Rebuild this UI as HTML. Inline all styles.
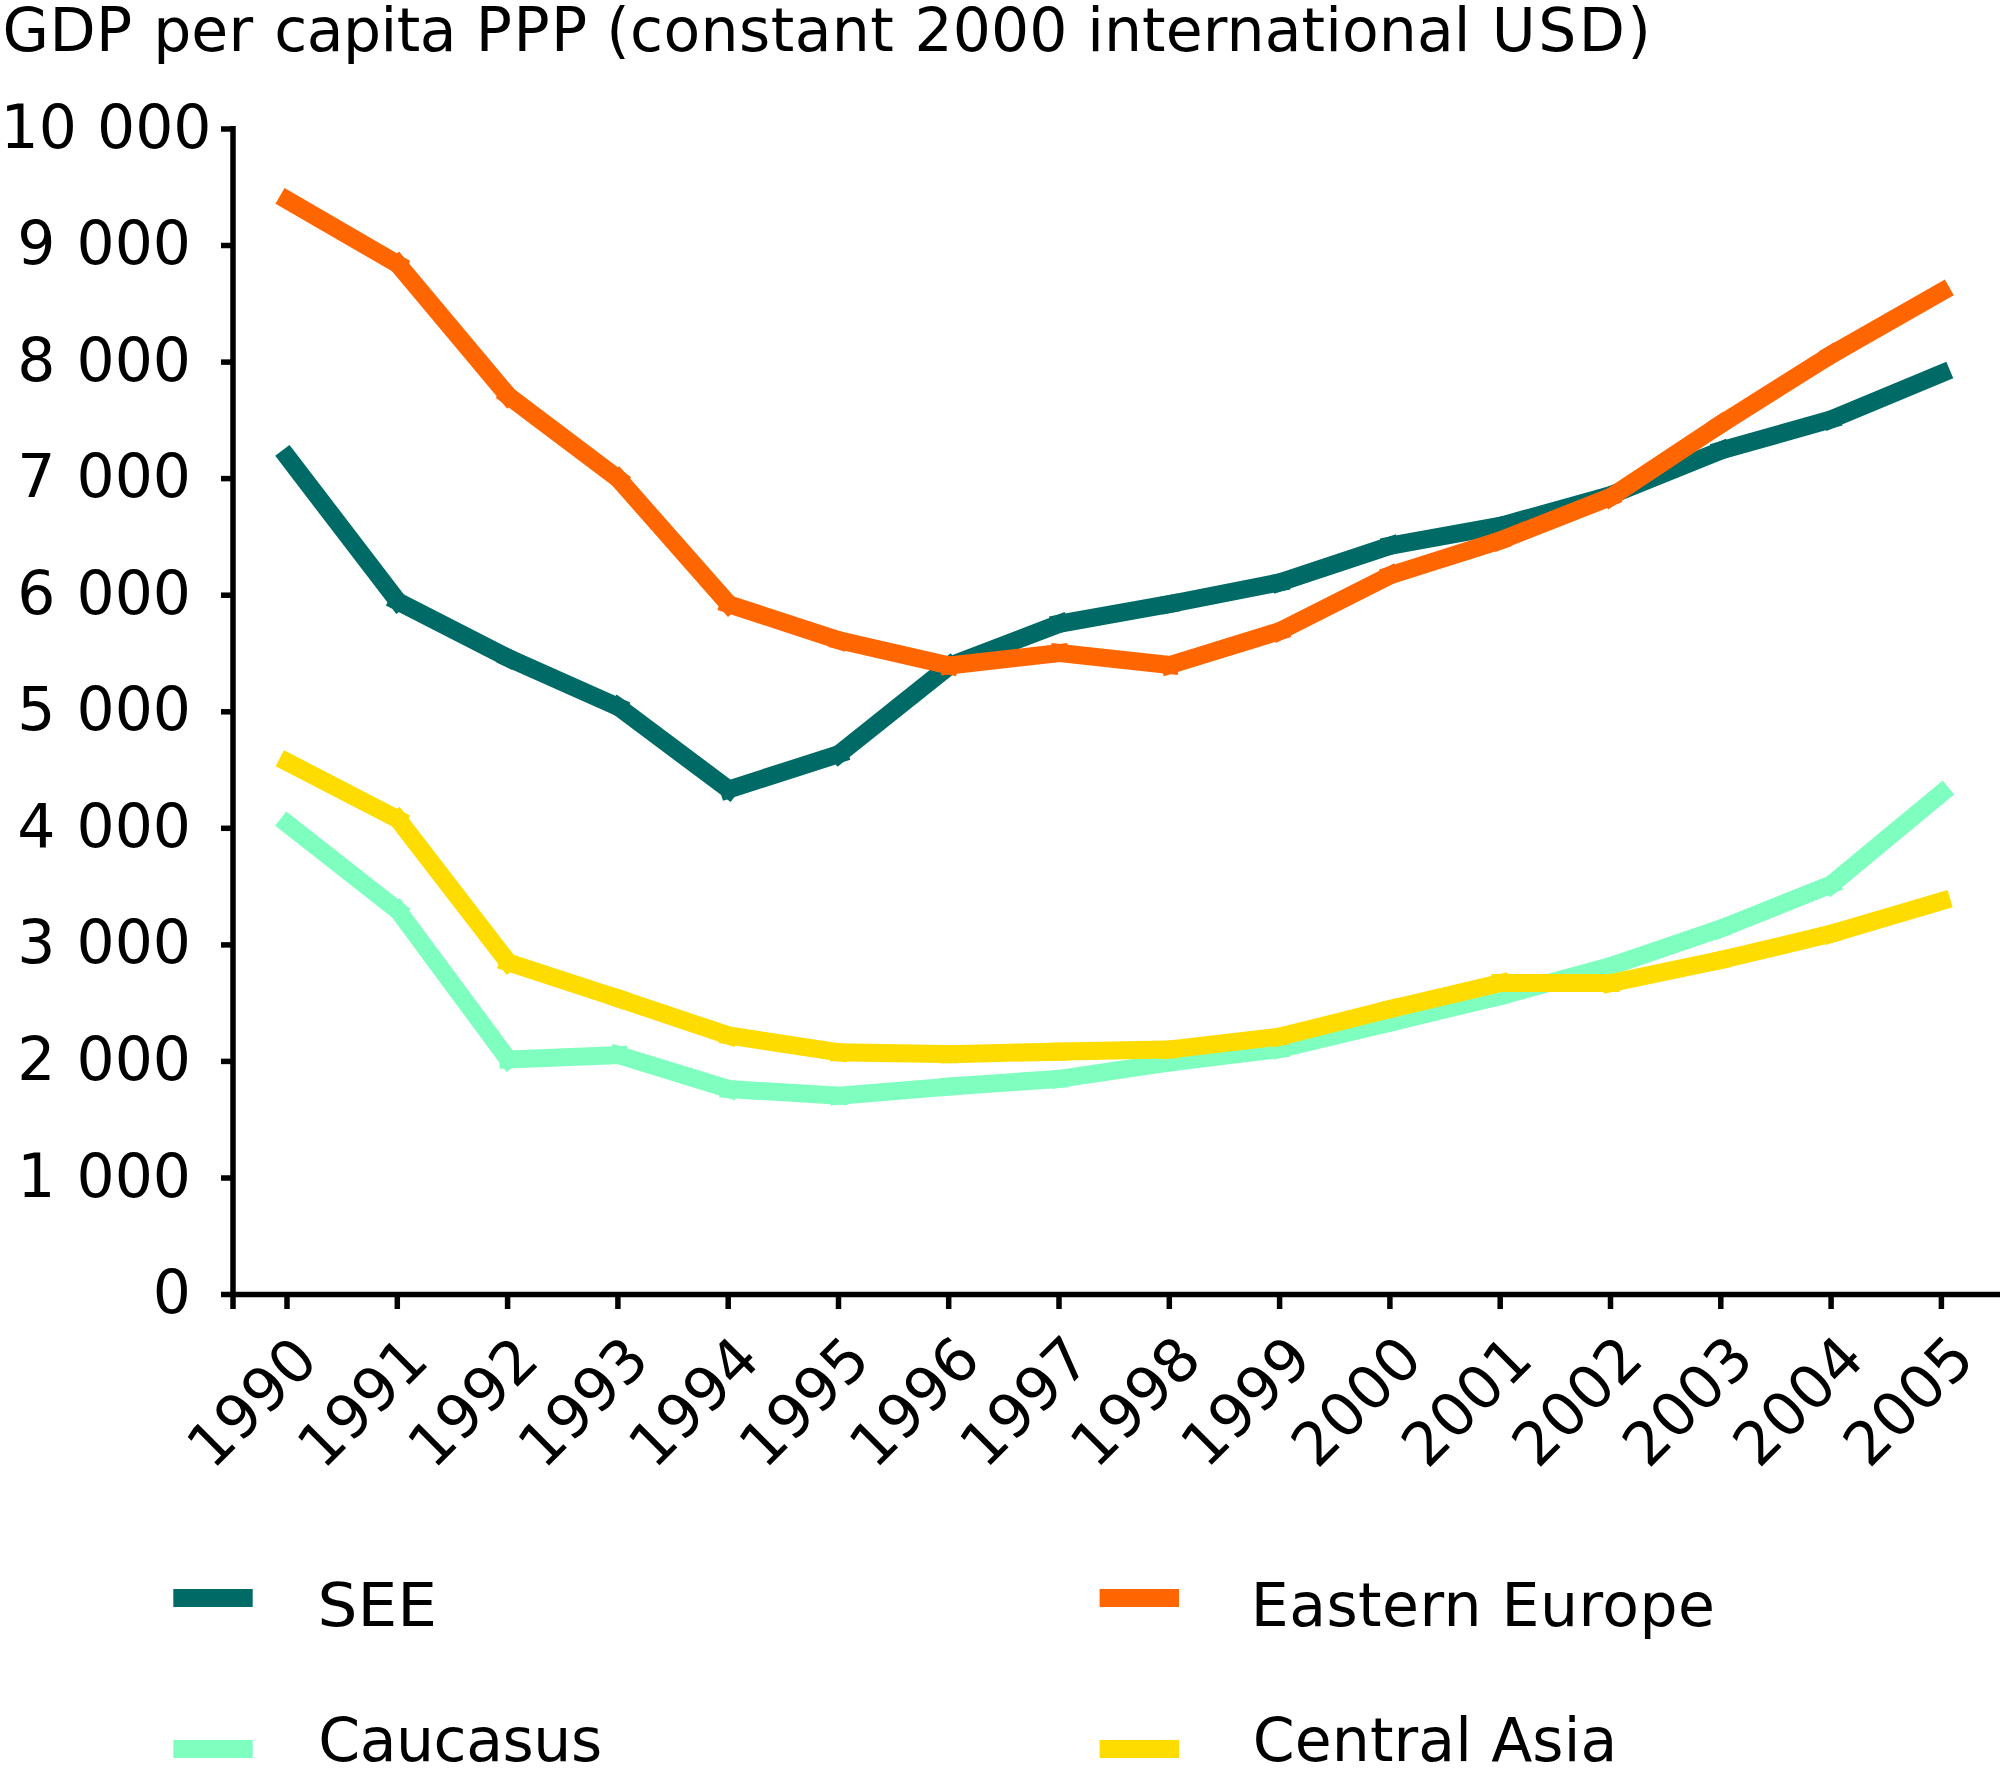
<!DOCTYPE html>
<html lang="en">
<head>
<meta charset="utf-8">
<title>GDP per capita PPP (constant 2000 international USD)</title>
<style>
html,body{margin:0;padding:0;background:#fff;}
svg{display:block;}
text{font-family:"DejaVu Sans","Liberation Sans",sans-serif;font-size:60px;fill:#000;}
.ax{stroke:#000;stroke-width:5.5;fill:none;stroke-linecap:butt;}
.ln{stroke-width:18;stroke-linecap:square;fill:none;}
</style>
</head>
<body>
<svg width="2000" height="1774" viewBox="0 0 2000 1774">
<rect x="0" y="0" width="2000" height="1774" fill="#ffffff"/>
<text y="51"><tspan x="2.6" style="letter-spacing:0.3px">GDP </tspan><tspan x="153.2" style="letter-spacing:0.1px">per </tspan><tspan x="274.2" style="letter-spacing:-0.48px">capita </tspan><tspan x="475.8" style="letter-spacing:1.4px">PPP </tspan><tspan x="606.2" style="letter-spacing:0.42px">(constant </tspan><tspan x="914.5" style="letter-spacing:0.1px">2000 </tspan><tspan x="1087.2" style="letter-spacing:0.12px">international </tspan><tspan x="1491.8" style="letter-spacing:2.47px">USD)</tspan></text>
<g class="d" text-anchor="end">
<text x="191" y="1313.0" style="word-spacing:2px">0</text>
<text x="191" y="1196.5" style="word-spacing:2px">1 000</text>
<text x="191" y="1079.9" style="word-spacing:2px">2 000</text>
<text x="191" y="963.4" style="word-spacing:2px">3 000</text>
<text x="191" y="846.8" style="word-spacing:2px">4 000</text>
<text x="191" y="730.2" style="word-spacing:2px">5 000</text>
<text x="191" y="613.7" style="word-spacing:2px">6 000</text>
<text x="191" y="497.1" style="word-spacing:2px">7 000</text>
<text x="191" y="380.6" style="word-spacing:2px">8 000</text>
<text x="191" y="264.0" style="word-spacing:2px">9 000</text>
<text x="211.5" y="147.5" style="word-spacing:1px">10 000</text>
</g>
<g class="ln" stroke="#006B66">
<line x1="287.8" y1="457.5" x2="398.0" y2="601.5"/>
<line x1="398.0" y1="601.5" x2="508.3" y2="658.0"/>
<line x1="508.3" y1="658.0" x2="618.5" y2="707.0"/>
<line x1="618.5" y1="707.0" x2="728.8" y2="789.5"/>
<line x1="728.8" y1="789.5" x2="839.0" y2="754.0"/>
<line x1="839.0" y1="754.0" x2="949.3" y2="666.0"/>
<line x1="949.3" y1="666.0" x2="1059.5" y2="623.7"/>
<line x1="1059.5" y1="623.7" x2="1169.8" y2="604.0"/>
<line x1="1169.8" y1="604.0" x2="1280.0" y2="582.3"/>
<line x1="1280.0" y1="582.3" x2="1390.3" y2="545.7"/>
<line x1="1390.3" y1="545.7" x2="1500.5" y2="525.8"/>
<line x1="1500.5" y1="525.8" x2="1610.8" y2="495.0"/>
<line x1="1610.8" y1="495.0" x2="1721.0" y2="450.5"/>
<line x1="1721.0" y1="450.5" x2="1831.3" y2="419.3"/>
<line x1="1831.3" y1="419.3" x2="1941.5" y2="373.4"/>
</g>
<g class="ln" stroke="#FF6600">
<line x1="287.8" y1="200.4" x2="398.0" y2="264.3"/>
<line x1="398.0" y1="264.3" x2="508.3" y2="396.0"/>
<line x1="508.3" y1="396.0" x2="618.5" y2="479.0"/>
<line x1="618.5" y1="479.0" x2="728.8" y2="604.3"/>
<line x1="728.8" y1="604.3" x2="839.0" y2="640.3"/>
<line x1="839.0" y1="640.3" x2="949.3" y2="665.5"/>
<line x1="949.3" y1="665.5" x2="1059.5" y2="653.0"/>
<line x1="1059.5" y1="653.0" x2="1169.8" y2="665.0"/>
<line x1="1169.8" y1="665.0" x2="1280.0" y2="631.0"/>
<line x1="1280.0" y1="631.0" x2="1390.3" y2="575.3"/>
<line x1="1390.3" y1="575.3" x2="1500.5" y2="540.3"/>
<line x1="1500.5" y1="540.3" x2="1610.8" y2="497.0"/>
<line x1="1610.8" y1="497.0" x2="1721.0" y2="424.0"/>
<line x1="1721.0" y1="424.0" x2="1831.3" y2="354.6"/>
<line x1="1831.3" y1="354.6" x2="1941.5" y2="291.8"/>
</g>
<g class="ln" stroke="#7FFFBF">
<line x1="287.8" y1="824.2" x2="398.0" y2="910.5"/>
<line x1="398.0" y1="910.5" x2="508.3" y2="1059.5"/>
<line x1="508.3" y1="1059.5" x2="618.5" y2="1055.0"/>
<line x1="618.5" y1="1055.0" x2="728.8" y2="1089.0"/>
<line x1="728.8" y1="1089.0" x2="839.0" y2="1095.8"/>
<line x1="839.0" y1="1095.8" x2="949.3" y2="1086.6"/>
<line x1="949.3" y1="1086.6" x2="1059.5" y2="1078.8"/>
<line x1="1059.5" y1="1078.8" x2="1169.8" y2="1062.4"/>
<line x1="1169.8" y1="1062.4" x2="1280.0" y2="1049.0"/>
<line x1="1280.0" y1="1049.0" x2="1390.3" y2="1022.6"/>
<line x1="1390.3" y1="1022.6" x2="1500.5" y2="996.0"/>
<line x1="1500.5" y1="996.0" x2="1610.8" y2="966.0"/>
<line x1="1610.8" y1="966.0" x2="1721.0" y2="928.5"/>
<line x1="1721.0" y1="928.5" x2="1831.3" y2="884.5"/>
<line x1="1831.3" y1="884.5" x2="1941.5" y2="793.2"/>
</g>
<g class="ln" stroke="#FFDC00">
<line x1="287.8" y1="762.3" x2="398.0" y2="819.3"/>
<line x1="398.0" y1="819.3" x2="508.3" y2="962.5"/>
<line x1="508.3" y1="962.5" x2="618.5" y2="998.5"/>
<line x1="618.5" y1="998.5" x2="728.8" y2="1035.5"/>
<line x1="728.8" y1="1035.5" x2="839.0" y2="1052.3"/>
<line x1="839.0" y1="1052.3" x2="949.3" y2="1054.2"/>
<line x1="949.3" y1="1054.2" x2="1059.5" y2="1051.6"/>
<line x1="1059.5" y1="1051.6" x2="1169.8" y2="1049.4"/>
<line x1="1169.8" y1="1049.4" x2="1280.0" y2="1036.6"/>
<line x1="1280.0" y1="1036.6" x2="1390.3" y2="1009.0"/>
<line x1="1390.3" y1="1009.0" x2="1500.5" y2="983.0"/>
<line x1="1500.5" y1="983.0" x2="1610.8" y2="983.0"/>
<line x1="1610.8" y1="983.0" x2="1721.0" y2="960.0"/>
<line x1="1721.0" y1="960.0" x2="1831.3" y2="933.7"/>
<line x1="1831.3" y1="933.7" x2="1941.5" y2="901.2"/>
</g>
<g class="ax">
<line x1="233" y1="126" x2="233" y2="1309"/>
<line x1="221" y1="1294.5" x2="2000" y2="1294.5"/>
<line x1="221" y1="1178.0" x2="233" y2="1178.0"/>
<line x1="221" y1="1061.4" x2="233" y2="1061.4"/>
<line x1="221" y1="944.9" x2="233" y2="944.9"/>
<line x1="221" y1="828.3" x2="233" y2="828.3"/>
<line x1="221" y1="711.8" x2="233" y2="711.8"/>
<line x1="221" y1="595.2" x2="233" y2="595.2"/>
<line x1="221" y1="478.6" x2="233" y2="478.6"/>
<line x1="221" y1="362.1" x2="233" y2="362.1"/>
<line x1="221" y1="245.5" x2="233" y2="245.5"/>
<line x1="221" y1="129.0" x2="233" y2="129.0"/>
<line x1="287.0" y1="1294.5" x2="287.0" y2="1309"/>
<line x1="397.3" y1="1294.5" x2="397.3" y2="1309"/>
<line x1="507.6" y1="1294.5" x2="507.6" y2="1309"/>
<line x1="617.9" y1="1294.5" x2="617.9" y2="1309"/>
<line x1="728.2" y1="1294.5" x2="728.2" y2="1309"/>
<line x1="838.5" y1="1294.5" x2="838.5" y2="1309"/>
<line x1="948.7" y1="1294.5" x2="948.7" y2="1309"/>
<line x1="1059.0" y1="1294.5" x2="1059.0" y2="1309"/>
<line x1="1169.3" y1="1294.5" x2="1169.3" y2="1309"/>
<line x1="1279.6" y1="1294.5" x2="1279.6" y2="1309"/>
<line x1="1389.9" y1="1294.5" x2="1389.9" y2="1309"/>
<line x1="1500.2" y1="1294.5" x2="1500.2" y2="1309"/>
<line x1="1610.5" y1="1294.5" x2="1610.5" y2="1309"/>
<line x1="1720.8" y1="1294.5" x2="1720.8" y2="1309"/>
<line x1="1831.1" y1="1294.5" x2="1831.1" y2="1309"/>
<line x1="1941.4" y1="1294.5" x2="1941.4" y2="1309"/>
</g>
<g class="d" text-anchor="end">
<text transform="translate(320.5,1363.0) rotate(-45)">1990</text>
<text transform="translate(430.9,1362.9) rotate(-45)">1991</text>
<text transform="translate(541.4,1362.8) rotate(-45)">1992</text>
<text transform="translate(651.8,1362.7) rotate(-45)">1993</text>
<text transform="translate(762.3,1362.6) rotate(-45)">1994</text>
<text transform="translate(872.7,1362.5) rotate(-45)">1995</text>
<text transform="translate(983.1,1362.4) rotate(-45)">1996</text>
<text transform="translate(1093.6,1362.3) rotate(-45)">1997</text>
<text transform="translate(1204.0,1362.2) rotate(-45)">1998</text>
<text transform="translate(1314.5,1362.1) rotate(-45)">1999</text>
<text transform="translate(1424.9,1362.0) rotate(-45)">2000</text>
<text transform="translate(1535.3,1361.9) rotate(-45)">2001</text>
<text transform="translate(1645.8,1361.8) rotate(-45)">2002</text>
<text transform="translate(1756.2,1361.7) rotate(-45)">2003</text>
<text transform="translate(1866.7,1361.6) rotate(-45)">2004</text>
<text transform="translate(1977.1,1361.5) rotate(-45)">2005</text>
</g>
<line x1="173.3" y1="1598" x2="252.7" y2="1598" stroke="#006B66" stroke-width="17.8"/>
<text x="317.5" y="1625.5" textLength="119.5" lengthAdjust="spacingAndGlyphs">SEE</text>
<line x1="1099.6" y1="1598" x2="1179" y2="1598" stroke="#FF6600" stroke-width="17.8"/>
<text x="1250.8" y="1625.5" style="letter-spacing:0.46px">Eastern Europe</text>
<line x1="173.3" y1="1749" x2="252.7" y2="1749" stroke="#7FFFBF" stroke-width="17.8"/>
<text x="318.2" y="1761" style="letter-spacing:-0.43px">Caucasus</text>
<line x1="1099.6" y1="1749" x2="1179" y2="1749" stroke="#FFDC00" stroke-width="17.8"/>
<text x="1252.8" y="1761" style="letter-spacing:0.1px">Central Asia</text>
</svg>
</body>
</html>
